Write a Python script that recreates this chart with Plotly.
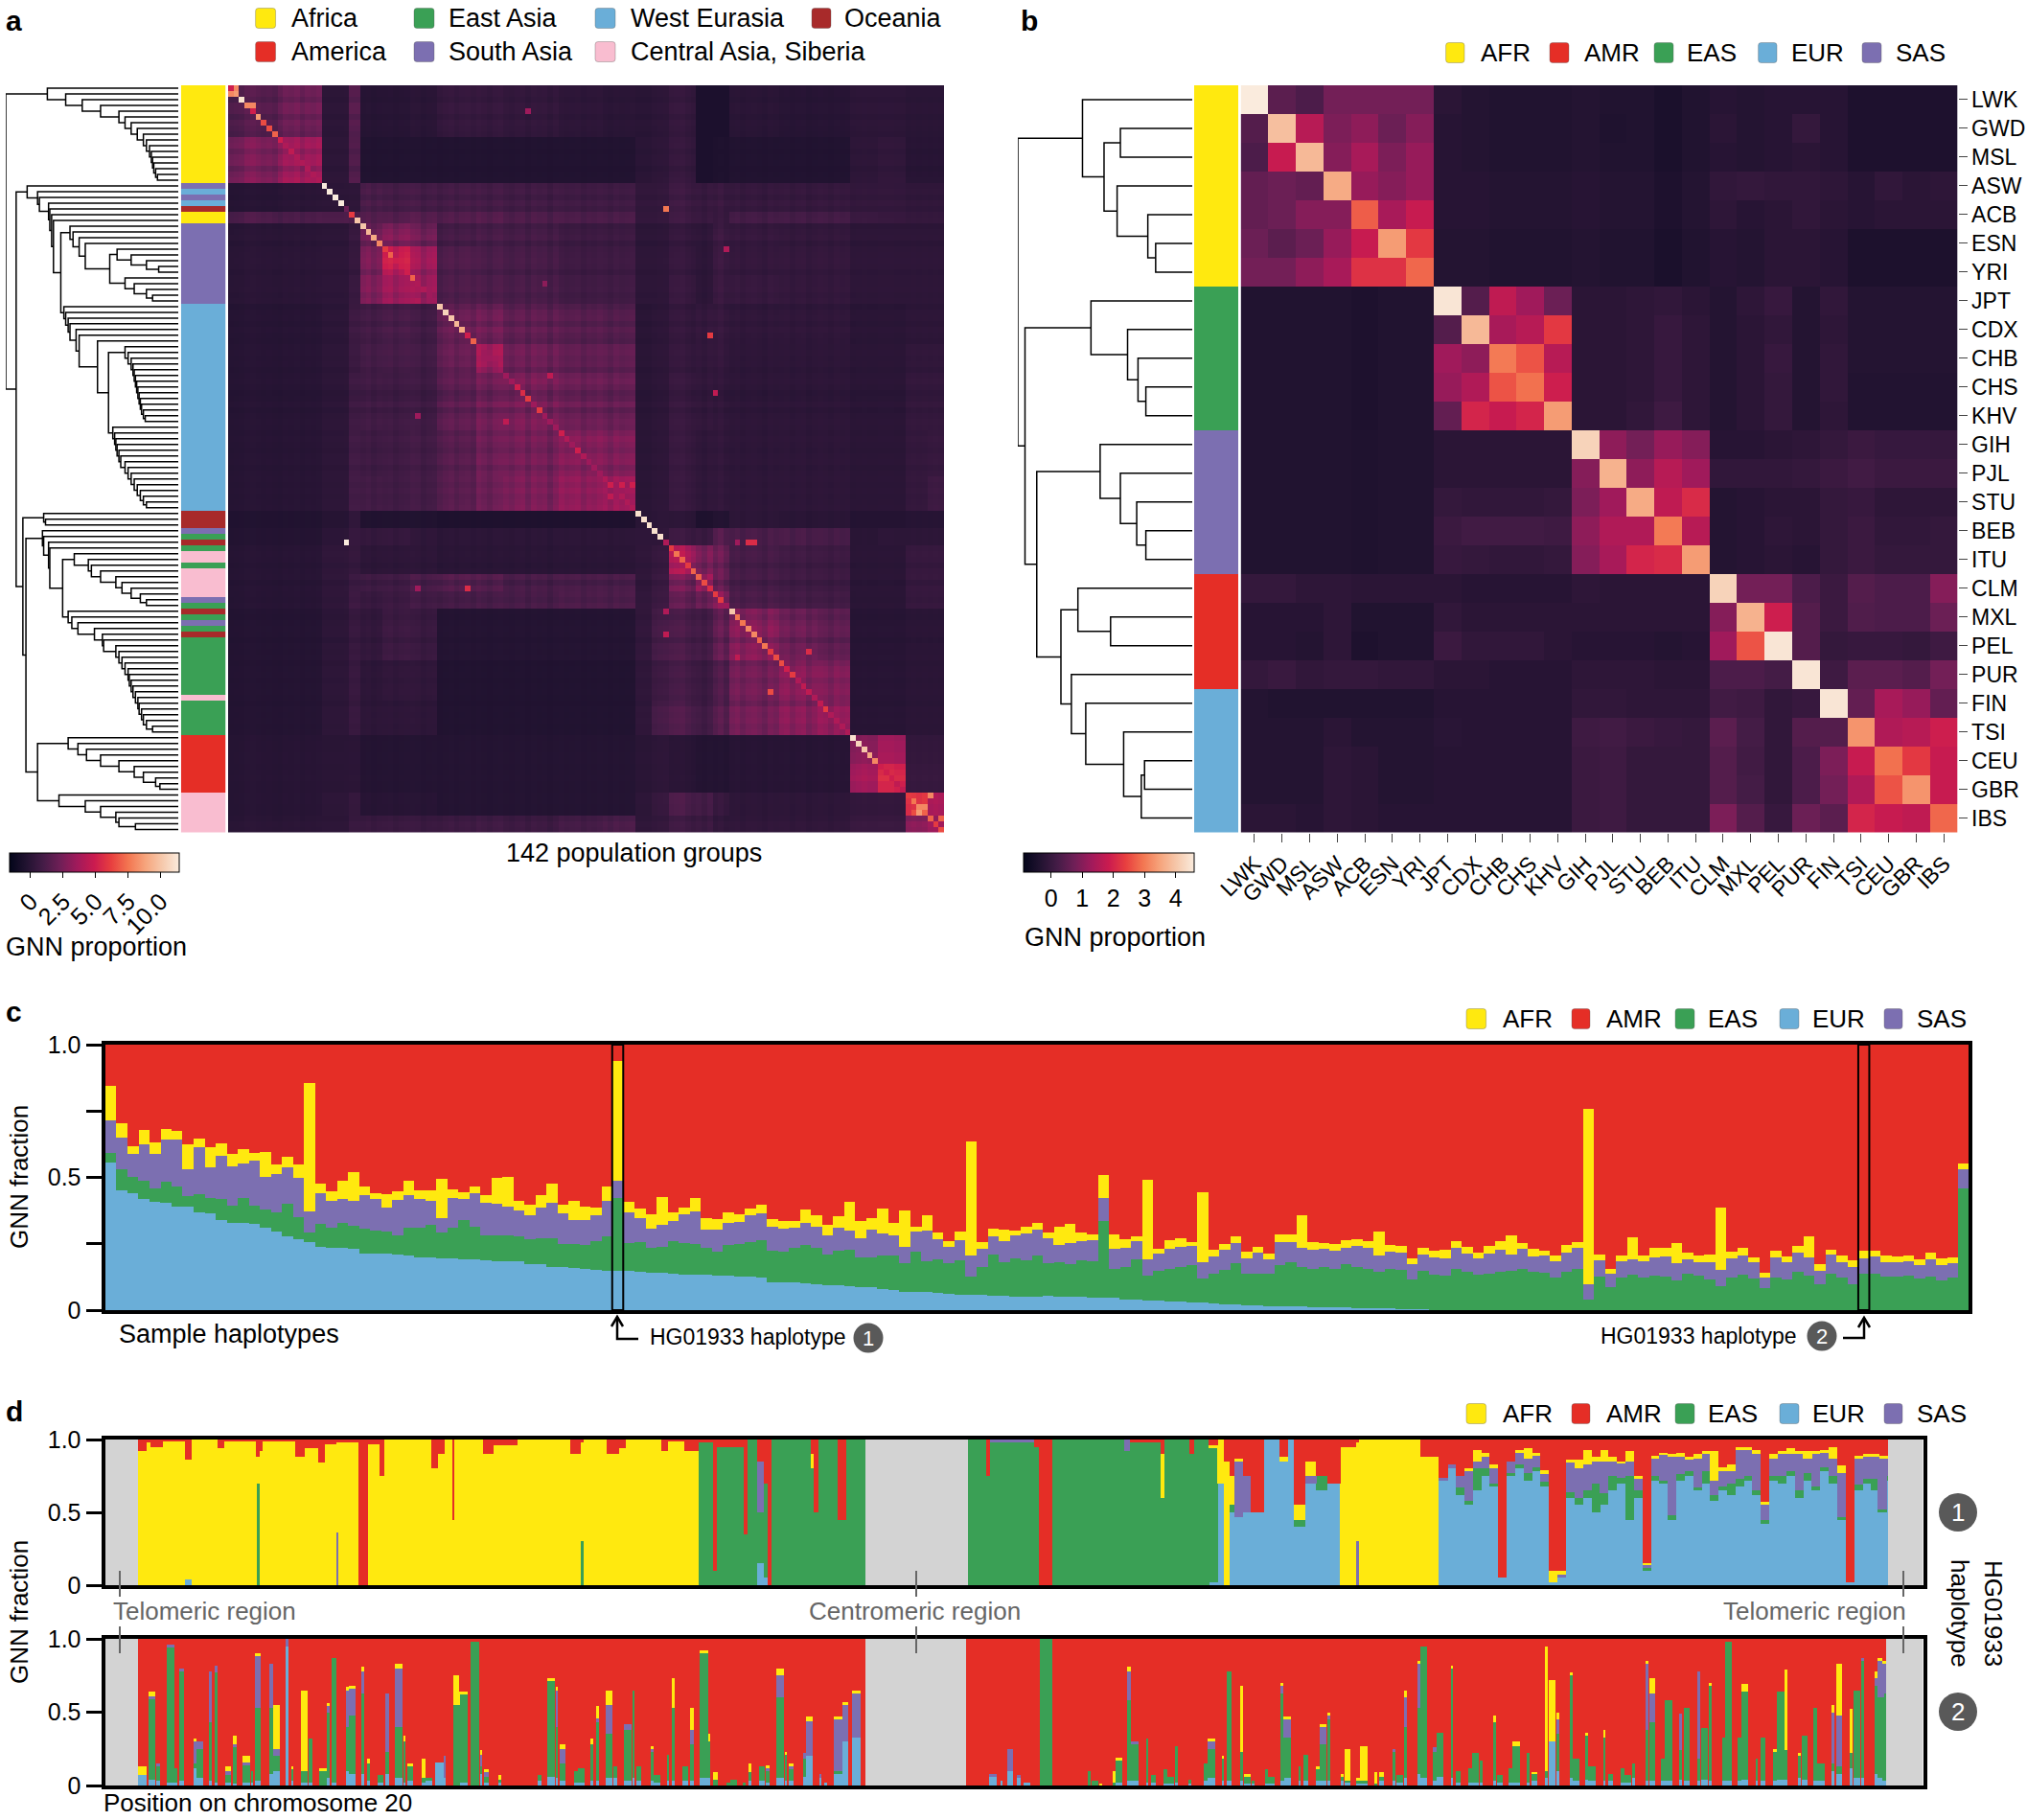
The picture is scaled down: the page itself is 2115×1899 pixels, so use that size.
import bisect
import plotly.graph_objects as go

W, H = 2115, 1899
FONT = "Liberation Sans"
AFR_C, AMR_C, EAS_C, EUR_C, SAS_C, OCE_C, CAS_C = "#FFE90F", "#E52E26", "#3AA055", "#6AAED8", "#7C6FB1", "#A82A2A", "#F9BDD0"
ROCKET = [[0, "#03051A"], [0.1, "#221331"], [0.2, "#451C47"], [0.3, "#701F57"], [0.4, "#A11A5B"],
          [0.5, "#CB1B4F"], [0.6, "#E83F3F"], [0.7, "#F37651"], [0.8, "#F6A47C"], [0.9, "#F6C9AC"], [1, "#FAEBDD"]]

# ---------- panel a: 130 drawn rows, colour strip as runs ----------
a_run_codes = [0, 4, 3, 4, 3, 5, 0, 4, 3, 5, 4, 2, 5, 2, 6, 2, 6, 4, 2, 5, 2, 4, 2, 5, 2, 6, 2, 1, 6]
a_run_sizes = [17, 1, 1, 1, 1, 1, 2, 14, 36, 3, 1, 1, 1, 1, 2, 1, 5, 1, 1, 1, 1, 1, 1, 1, 10, 1, 6, 10, 7]
a_block_edges = [0, 9, 17, 22, 24, 28, 33, 38, 45, 50, 60, 68, 74, 77, 80, 85, 88, 91, 100, 107, 113, 118, 123, 127, 130]
a_blocks = [
 [1.3,1.9,0.0,1.2,-0.2,-0.2,-0.1,0.3,0.3,0.2,0.0,-0.1,-0.1,0.0,0.3,-0.6,-0.6,-0.1,-0.2,-0.2,0.0,0.0,-0.1,-0.1],
 [2.2,3.0,0.0,1.0,-0.4,-0.4,-0.4,-0.4,-0.4,-0.4,-0.4,-0.4,-0.1,0.0,0.3,-0.6,-0.5,-0.4,-0.4,-0.4,0.0,0.1,-0.2,-0.2],
 [-0.2,-0.1,0.0,0.0,1.0,0.8,0.8,0.8,0.8,0.7,0.6,0.6,0.2,0.2,0.6,0.4,0.5,0.3,0.3,0.3,0.2,0.2,0.1,0.1],
 [1.0,0.9,1.0,0.8,1.2,1.1,1.2,1.1,1.2,1.0,0.9,0.9,0.2,0.2,0.6,0.4,0.4,0.7,0.7,0.7,0.4,0.3,0.2,0.2],
 [-0.1,-0.1,0.0,0.3,2.0,2.4,2.0,0.8,0.9,0.8,0.5,0.5,0.0,0.0,0.3,0.1,0.6,0.3,0.2,0.2,0.0,0.0,0.0,0.0],
 [-0.1,-0.1,0.0,0.2,2.2,4.0,3.0,1.0,0.9,0.8,0.5,0.5,0.0,0.0,0.3,0.0,0.5,0.2,0.2,0.2,0.0,0.0,0.0,0.0],
 [-0.1,-0.1,0.0,0.3,2.4,3.0,3.0,1.0,1.0,0.9,0.6,0.6,0.0,0.0,0.4,0.0,0.5,0.3,0.2,0.2,0.0,0.0,0.0,0.0],
 [-0.2,-0.2,0.0,0.5,0.8,0.9,0.7,1.8,2.0,1.6,1.3,1.2,-0.1,0.0,0.3,0.3,0.4,0.1,0.1,0.1,-0.1,-0.1,0.0,0.0],
 [-0.2,-0.2,0.0,0.4,0.8,0.8,0.7,1.7,3.2,1.9,1.5,1.5,-0.1,0.0,0.3,0.2,0.3,0.0,0.0,0.0,-0.1,-0.1,0.1,0.1],
 [-0.2,-0.2,0.0,0.5,0.7,0.6,0.6,1.5,2.0,2.2,1.8,1.7,-0.1,0.0,0.4,0.2,0.2,0.0,0.0,0.0,-0.1,-0.1,0.2,0.2],
 [-0.2,-0.2,0.0,0.6,0.6,0.6,0.7,1.3,1.9,2.1,2.4,2.3,-0.1,0.0,0.4,0.1,0.2,0.0,0.0,0.0,-0.1,-0.1,0.2,0.3],
 [-0.2,-0.2,0.0,0.6,0.7,0.6,0.7,1.3,1.8,2.2,2.6,2.9,-0.1,0.0,0.4,0.1,0.2,0.0,0.0,0.0,-0.1,-0.1,0.2,0.5],
 [-0.4,-0.4,-0.2,0.1,-0.4,-0.4,-0.4,-0.5,-0.5,-0.5,-0.5,-0.5,-0.1,0.0,0.0,-0.5,-0.3,0.0,-0.1,-0.1,-0.3,-0.3,-0.2,-0.2],
 [-0.3,-0.3,0.0,0.3,0.3,0.3,0.1,0.0,0.0,0.0,0.0,0.0,0.1,0.1,0.6,0.5,1.5,1.0,1.0,0.9,-0.1,0.0,0.0,0.0],
 [-0.2,-0.2,0.1,0.2,0.0,0.0,0.0,-0.1,-0.1,-0.1,-0.1,-0.1,0.1,0.3,3.6,2.3,2.0,0.8,0.6,0.5,-0.1,-0.1,0.3,0.3],
 [-0.2,-0.2,0.1,0.4,0.6,0.6,0.9,1.2,1.2,0.9,0.9,0.9,0.1,0.4,2.2,3.0,1.9,0.8,0.6,0.5,-0.1,-0.1,0.3,0.3],
 [-0.2,-0.2,0.1,0.5,0.4,0.5,0.7,0.8,0.9,0.9,1.0,1.0,0.2,0.5,1.7,1.9,2.9,1.0,0.8,0.7,-0.1,-0.1,0.3,0.3],
 [-0.3,-0.3,0.0,0.3,0.2,0.5,0.4,-0.3,-0.3,-0.3,-0.3,-0.3,0.2,0.8,1.0,0.8,1.8,2.5,1.9,1.5,-0.2,-0.2,-0.1,-0.1],
 [-0.3,-0.3,0.0,0.3,0.0,0.1,0.1,-0.4,-0.4,-0.4,-0.4,-0.4,0.1,0.5,0.8,0.5,1.2,2.0,2.5,2.3,-0.2,-0.2,-0.1,-0.1],
 [-0.3,-0.3,0.0,0.3,0.0,0.0,0.0,-0.4,-0.4,-0.4,-0.4,-0.4,0.1,0.8,1.1,0.7,1.4,2.0,2.5,2.7,-0.2,-0.2,-0.1,-0.1],
 [-0.2,-0.2,-0.1,-0.1,-0.3,-0.3,-0.3,-0.3,-0.3,-0.3,-0.3,-0.3,-0.1,0.0,-0.1,-0.3,-0.3,-0.2,-0.2,-0.2,2.6,3.2,0.2,0.2],
 [-0.2,-0.2,-0.1,-0.1,-0.3,-0.3,-0.3,-0.3,-0.3,-0.3,-0.3,-0.3,-0.1,0.0,-0.1,-0.3,-0.3,-0.2,-0.2,-0.2,3.2,4.6,0.3,0.3],
 [-0.2,-0.2,0.0,0.2,-0.2,-0.2,-0.2,-0.3,-0.3,-0.3,-0.3,-0.3,0.0,0.3,1.0,0.8,0.4,0.0,0.0,0.0,0.2,0.2,5.0,3.4],
 [-0.1,-0.1,0.0,0.3,0.4,0.4,0.4,0.5,0.6,0.5,0.7,0.9,0.1,0.2,0.6,0.5,0.2,0.1,0.1,0.1,0.4,0.4,2.5,3.0],
]
a_row_tint = [.1,.1,-.2,.3,.3,-.2,.2,0,-.2,.2, .3,-.1,.2,.3,-.2,.2,.4,0,.2,-.2,
              .3,-.1,.2,.3,-.2,.1,.3,-.3,.2,.3, .4,.3,-.1,.2,.2,.3,0,.2,-.3,.1,
              .2,-.2,.3,0,-.2,.2,.3,.1,.2,-.2, .1,.3,0,-.4,-.2,.3,-.3,.1,.3,.2,
              0,.3,.1,-.1,.2,.3,-.1,.2,.3,.1, .3,.1,.2,.3,0,0,0,0,0,0,
              .1,.3,.2,-.2,.2,.3,-.3,.2,.1,-.1, .2,0,-.2,.1,.3,.2,-.3,.2,.1,.3,
              -.1,.2,.3,0,.2,.3,.1,-.2,.3,.2, .3,.1,.2,0,.1,.1,.2,.2,.1,.2,
              .3,.1,.1,.2,.2,.1,.1,-.1,.3,.2]
a_col_tint = [-.3,-.2,-.1,.3,.4,.2,0,.1,-.1,-.2, .2,.1,.3,-.1,.2,.1,.3,0,0,0,
              0,.1,.3,.3,0,.2,-.2,.1,.2,.3, -.1,.2,.3,.4,.3,-.2,.1,.2,-.2,.1,
              .3,-.1,.2,.3,0,.3,.1,-.2,.2,.3, .1,-.1,.2,.3,-.2,.3,.1,.2,-.3,.2,
              .3,.1,.2,.3,-.1,.2,.1,.3,.2,-.1, .3,.1,.2,.3,0,0,0,0,.2,.3,
              .1,.2,.3,-.1,-.4,.1,-.3,.2,-.2,.2, -.4,.1,.3,-.1,.2,.3,.1,-.2,.3,.1,
              .2,.3,-.1,.2,.3,-.2,.1,.3,.2,-.1, .3,.1,.2,0,.1,.2,.1,.1,.2,.2,
              .2,.1,.1,.1,.2,.1,.2,.1,.2,.1]
a_diagonal = [5,8.5,11,8,6,8.5,6.5,6.5,7,5, 4,4.5,4,4,4,4,4,11.4,11.4,11.4, 11.4,2,6,10,10,9.5,9,8,6,7,
              5,5,5,7,4,4,3.5,3.5,10,10.5, 10,9.5,9,5,7,4,3.5,3.5,3.5,3.5, 3.5,3.5,5,5.5,6,3.5,6,3.5,3.5,3.5,
              3.5,4,3.5,3.5,4,3.5,3.5,3.5,4,4, 3.5,4,4,4,11,11,11,11,11,4, 6,7.5,7,6,7,7,6.5,5.5,6,6,
              3.5,10,7.5,7.5,8,8,7,7.5,6,6.5, 6.5,5,6,4,4.5,4.5,4,4.5,4,4, 4,4,4,11,10.5,10,9,8,5,5,
              5,4.5,4.5,6,7.5,8,7,7,6,7]
a_spot_row = [21,79,43,87,87,28,53,79,79,79,105,98,0,1,3,4,69,69,69,71,108,99,95,91,123,125,126,126,127,129,4,50,60,63,58,57,37,34]
a_spot_col = [79,21,87,43,34,90,88,94,95,92,98,105,1,0,4,4,69,71,73,69,108,92,79,79,127,126,125,124,129,129,54,58,60,63,50,34,34,57]
a_spot_val = [7.5,11.4,6,5.5,3.5,4,4.5,5.5,5.5,3.5,6.5,5.5,8,8,8,5,5,5,5,4.5,6,4.5,4.5,4,8,8,8.5,6.5,7,6.5,3.5,4.5,5,5,4.5,3.5,4,3]

# ---------- panel b ----------
b_pops = ["LWK","GWD","MSL","ASW","ACB","ESN","YRI","JPT","CDX","CHB","CHS","KHV","GIH","PJL","STU","BEB","ITU","CLM","MXL","PEL","PUR","FIN","TSI","CEU","GBR","IBS"]
b_codes = [0]*7 + [2]*5 + [4]*5 + [1]*4 + [3]*5
b_matrix = [
 [4.6,.5,.3,.8,.8,.8,.8,-.2,-.3,-.35,-.35,-.35,-.3,-.35,-.35,-.45,-.35,-.25,-.3,-.25,-.25,-.25,-.4,-.4,-.4,-.4],
 [.4,3.9,1.6,.9,1.1,.7,1.0,-.25,-.3,-.35,-.35,-.35,-.3,-.38,-.35,-.45,-.35,-.2,-.3,-.25,-.05,-.25,-.4,-.4,-.4,-.4],
 [.3,1.8,3.8,1.0,1.4,.9,1.2,-.25,-.3,-.35,-.35,-.35,-.3,-.35,-.35,-.45,-.35,-.25,-.3,-.25,-.2,-.25,-.4,-.4,-.4,-.4],
 [.6,.7,.6,3.6,1.2,1.0,1.2,-.25,-.25,-.3,-.3,-.3,-.25,-.3,-.3,-.4,-.3,-.1,-.05,-.1,-.1,-.15,-.25,-.1,-.2,-.15],
 [.6,.7,1.0,1.0,2.7,1.4,1.8,-.25,-.25,-.3,-.3,-.3,-.25,-.3,-.3,-.4,-.3,-.15,-.25,-.2,-.1,-.2,-.25,-.2,-.2,-.2],
 [.7,.5,.7,1.2,1.8,3.4,2.3,-.3,-.3,-.35,-.35,-.35,-.3,-.35,-.35,-.45,-.35,-.25,-.3,-.2,-.2,-.25,-.42,-.42,-.42,-.42],
 [.8,.8,1.1,1.4,2.2,2.2,2.8,-.3,-.3,-.35,-.35,-.35,-.3,-.35,-.35,-.45,-.35,-.25,-.3,-.2,-.2,-.25,-.42,-.42,-.42,-.42],
 [-.35,-.35,-.35,-.35,-.4,-.35,-.35,4.5,.4,1.7,1.3,.7,-.2,-.2,-.15,-.1,-.2,-.3,-.15,0,-.3,-.1,-.3,-.3,-.3,-.3],
 [-.35,-.35,-.35,-.35,-.4,-.35,-.35,.4,3.8,1.4,1.6,2.3,-.2,-.2,-.15,0,-.15,-.3,-.2,-.1,-.3,-.15,-.3,-.3,-.3,-.3],
 [-.35,-.35,-.35,-.35,-.4,-.35,-.35,1.3,1.1,3.0,2.6,1.6,-.2,-.2,-.15,0,-.15,-.3,-.2,0,-.3,-.1,-.3,-.3,-.3,-.3],
 [-.35,-.35,-.35,-.35,-.4,-.35,-.35,1.2,1.5,2.6,2.9,1.9,-.2,-.2,-.15,0,-.15,-.3,-.2,-.05,-.3,-.1,-.33,-.33,-.33,-.33],
 [-.35,-.35,-.35,-.35,-.4,-.35,-.35,.6,2.0,1.8,2.0,3.4,-.2,-.2,-.1,.1,-.15,-.3,-.2,-.05,-.3,-.15,-.33,-.33,-.33,-.33],
 [-.35,-.35,-.35,-.35,-.38,-.35,-.35,-.2,-.2,-.2,-.2,-.2,4.2,1.1,.8,1.2,1.0,-.25,-.25,-.2,-.15,-.05,.05,-.02,-.02,-.03],
 [-.35,-.35,-.35,-.35,-.38,-.35,-.35,-.2,-.2,-.2,-.2,-.2,1.0,3.7,1.1,1.6,1.3,-.1,-.1,-.1,-.05,.05,.15,.05,.05,.05],
 [-.35,-.35,-.35,-.35,-.38,-.35,-.35,-.05,-.1,-.1,-.1,-.05,.9,1.3,3.6,1.7,2.1,-.3,-.25,-.2,-.2,-.05,0,-.15,-.15,-.15],
 [-.35,-.35,-.35,-.35,-.38,-.35,-.35,.05,.15,.15,.15,.1,1.1,1.5,1.5,3.0,1.6,-.3,-.25,-.15,-.2,-.05,.05,-.1,-.1,-.05],
 [-.35,-.35,-.35,-.35,-.38,-.35,-.35,0,-.05,-.1,-.1,-.05,1.0,1.4,2.0,2.1,3.4,-.3,-.25,-.2,-.25,-.05,.05,-.05,-.05,-.05],
 [-.05,-.05,-.15,-.15,-.2,-.2,-.2,-.2,-.25,-.25,-.25,-.25,-.15,-.2,-.2,-.2,-.2,4.2,.8,.8,.3,.05,.4,.3,.3,1.0],
 [-.25,-.25,-.25,-.15,-.35,-.35,-.35,-.1,-.2,-.2,-.2,-.2,-.2,-.2,-.2,-.2,-.2,1.0,3.7,1.9,.4,.05,.35,.3,.3,.7],
 [-.25,-.25,-.3,-.15,-.4,-.35,-.35,.05,-.1,-.1,-.1,-.2,-.25,-.25,-.25,-.3,-.25,1.3,2.6,4.5,.4,-.05,0,0,-.05,.1],
 [-.05,.02,-.1,-.05,-.05,-.1,-.1,-.2,-.2,-.25,-.25,-.25,-.15,-.15,-.15,-.2,-.2,.3,.3,.2,4.5,.1,.5,.5,.4,.8],
 [-.3,-.35,-.35,-.35,-.35,-.35,-.35,-.25,-.25,-.25,-.25,-.25,-.1,-.1,-.15,-.15,-.15,.15,.1,-.1,0,4.5,.6,1.4,1.2,.6],
 [-.3,-.3,-.3,-.2,-.3,-.3,-.3,-.22,-.25,-.25,-.25,-.25,.1,.15,.05,0,-.05,.5,.2,-.1,.4,.4,3.3,1.5,1.6,1.9],
 [-.3,-.3,-.3,-.15,-.2,-.3,-.3,-.25,-.25,-.25,-.25,-.25,.05,.1,-.05,-.05,-.05,.4,.15,-.1,.3,.9,1.8,2.9,2.3,1.8],
 [-.3,-.3,-.3,-.15,-.2,-.3,-.3,-.25,-.25,-.25,-.25,-.25,.05,.1,-.05,-.05,-.05,.4,.2,-.1,.3,.8,1.5,2.6,3.3,1.8],
 [-.2,-.2,-.25,-.15,-.2,-.25,-.25,-.25,-.25,-.25,-.25,-.25,.05,.1,-.05,-.05,-.05,.9,.4,0,.7,.5,2.0,1.8,1.7,2.8],
]

# ---------- panel c: per-mille GNN fraction of each sample haplotype ----------
c_eur = [557,450,442,417,409,403,391,391,367,363, 341,330,328,325,309,296,278,266,255,238,
         236,234,230,214,212,212,209,206,200,197, 195,195,192,190,188,185,184,184,173,173,
         163,162,160,156,151,149,149,148,144,142, 140,136,134,133,132,131,129,128,128,122,
         106,104,103,100,98,94,93,91,87,85, 79,76,70,70,68,64,61,59,58,57,
         54,54,52,52,52,54,52,51,50,48, 47,46,41,39,36,35,34,34,29,28,
         25,23,21,18,17,16,16,15,13,12, 11,10,10,8,8,6,6,4,2,2,
         1,1,0,0,0,0,0,0,0,0, 0,0,0,0,0,0,0,0,0,0,
         0,0,0,0,0,0,0,0,0,0, 0,0,0,0,0,0,0,0,0,0,
         0,0,0,0,0,0,0,0,0]
c_eas = [36,82,61,69,51,79,73,39,70,61, 76,65,93,68,70,73,123,83,36,88,
         76,93,88,92,88,85,73,106,109,123, 96,114,149,125,94,97,98,94,93,97,
         106,86,88,88,109,129,272,105,113,94, 98,125,119,115,102,91,115,122,127,140,
         117,115,131,145,136,117,131,138,113,113, 128,131,108,149,117,126,115,128,69,106,
         155,127,142,136,154,123,129,121,136,137, 289,111,122,151,93,114,123,127,139,90,
         114,128,155,121,120,123,154,167,148,144, 150,146,162,155,148,138,150,148,113,146,
         134,128,157,146,133,139,145,149,156,144, 142,123,146,157,40,125,85,123,132,121,
         129,127,113,139,131,117,91,121,132,119, 83,123,117,143,129,99,136,121,97,139,
         139,127,125,129,119,127,113,123,457]
c_sas = [121,119,85,137,127,160,178,99,177,113, 166,148,133,169,123,145,137,150,81,115,
         99,91,93,126,117,91,132,123,111,91, 54,113,76,127,121,120,109,98,93,117,
         136,117,90,94,99,132,68,116,91,70, 85,73,109,125,70,80,86,82,103,102,
         90,87,75,85,81,70,85,70,70,106, 81,73,62,77,115,77,61,76,77,67,
         70,79,86,102,96,92,64,82,75,80, 87,73,73,70,62,63,73,77,74,64,
         63,76,76,56,81,53,86,74,75,73, 70,68,64,80,80,61,63,63,58,61,
         64,67,76,67,61,75,81,61,74,59, 65,61,69,79,57,63,51,61,58,64,
         70,75,64,52,51,63,61,73,74,62, 40,74,63,75,69,50,74,59,67,56,
         63,53,56,56,51,63,57,54,73]
c_afr = [129,52,29,54,44,42,33,97,31,77, 44,44,53,30,92,36,38,48,484,35,
         36,71,109,33,23,48,33,52,31,39, 148,33,27,24,30,98,111,34,38,48,
         71,31,75,51,29,54,449,39,34,54, 104,33,23,51,41,40,40,28,25,34,
         29,31,27,50,42,39,44,109,65,42, 93,48,137,19,59,24,22,33,433,28,
         29,42,19,23,28,24,69,71,31,19, 86,54,30,19,299,18,33,31,16,263,
         27,23,25,24,22,22,29,29,122,27, 22,24,29,23,24,92,27,28,22,27,
         25,33,27,27,23,28,33,71,22,27, 17,23,29,21,661,22,19,21,86,21,
         36,33,74,24,23,28,236,28,27,19, 18,27,21,23,79,24,18,24,22,29,
         22,24,22,22,22,27,24,22,21]
c_highlight = [46, 159]

# ---------- panel d: haplotype 1, segments (Mb) ----------
d1_edge = [1.45,1.61,2.02,2.82,3.05,3.97,4.2,5.35,5.46,5.58,
           6.73,7.07,7.53,7.76,8.17,8.26,8.98,9.3,9.71,9.87,
           11.55,11.78,12.0,12.3,12.37,13.38,13.73,14.6,16.48,16.83,
           16.94,17.75,18.2,18.43,19.7,19.93,20.5,21.0,21.53,21.65,
           22.63,22.75,23.09,23.32,23.46,23.6,24.98,25.09,25.27,25.94,
           26.24,26.93,31.2,31.35,32.9,33.09,33.55,36.1,36.3,37.4,
           37.5,38.4,38.55,39.1,39.4,39.62,39.83,40.0,40.3,40.59,
           41.05,41.6,41.9,42.1,42.5,42.9,43.3,43.75,44.3,44.4,
           45.5,46.6,47.25]
d1_eur = [0,0,0,0,.04,0,0,0,0,0, 0,0,0,0,0,0,0,0,0,0, 0,0,0,0,0,0,0,0,0,0, 0,0,0,0,0,0,0,0,0,0,
          0,0,0,.15,.05,0,0,0,0,0, 0,0,0,0,0,0,0,0,0,0, 0,0,0,0,.02,.7,0,.5,.47,.5,
          .5,1,.85,1,.4,.7,.65,.7,0,0, 0,0,0]
d1_eas = [0,0,0,0,0,0,0,0,.7,0, 0,0,0,0,0,0,0,0,0,0, 0,0,0,0,0,0,0,0,0,0, .3,0,0,0,0,0,0,0,.98,.1,
          .95,.35,1,.35,.65,0,1,.8,.5,1, .45,1,1,.75,.98,.95,0,1,.92,.98, .6,1,.9,1,.92,0,0,.05,0,0,
          0,0,0,0,.05,0,.1,0,0,0, 0,0,0]
d1_sas = [0,0,0,0,0,0,0,0,0,0, 0,0,0,0,0,.36,0,0,0,0, 0,0,0,0,0,0,0,0,0,0, 0,0,0,0,0,0,0,0,0,0,
          0,0,0,.35,0,0,0,0,0,0, 0,0,0,0,.02,0,0,0,.08,0, 0,0,0,0,0,0,0,0,.38,.25,
          0,0,0,0,0,.05,0,0,0,.3, 0,0,0]
d1_afr = [.92,.98,.95,.99,.82,1,.94,.99,.18,.92, .99,.88,.94,.84,.97,.62,.98,0,.97,.75,
          1,.8,.9,1,.45,1,.9,.96,1,.9, .68,1,.9,.94,1,.92,.99,.92,0,0,
          0,0,0,0,0,0,0,.1,0,0, 0,0,0,0,0,0,0,0,0,0, .3,0,0,0,.02,.3,.85,.2,.02,0,
          0,0,.03,0,.1,.1,0,0,.95,.68, 1,1,.88]
d1t_eur = [.72,.8,.62,.55,.65,.75,.68,.05,.75,.8, .72,.78,.68,.02,.05,.6,.55,.6,.5,.55,
           .65,.7,.45,.6,.1,.72,.7,.45,.72,.75, .65,.7,.58,.65,.62,.68,.72,.62,.42,.72,
           .7,.75,.6,.72,.65,.78,.7,.45,.02,.65, .7,.65,.72,.5]
d1t_eas = [0,0,.05,.03,.15,.05,.02,0,.02,.03, .05,.03,.03,0,0,.04,.05,.05,.2,.08,
           .1,.04,.3,.05,.02,.03,.02,.03,.04,.03, .02,.08,.04,.03,.08,.05,.03,.03,.03,.03,
           .05,.03,.05,.05,.03,.03,.05,.02,0,.04, .03,.08,.03,.02]
d1t_sas = [.02,.03,.08,.2,.05,.08,.1,0,.08,.08, .1,.08,.05,0,.02,.2,.2,.18,.15,.22,
           .1,.1,.1,.08,.02,.12,.18,.4,.12,.08, .2,.12,.1,.1,.08,.2,.18,.25,.1,.12,
           .15,.12,.25,.1,.22,.1,.12,.3,0,.18, .15,.15,.12,.38]
d1t_afr = [0,0,0,.02,.08,.03,.03,0,0,.02, .07,.02,.03,.08,.03,.02,.06,.1,.03,.08,
           .03,.01,.07,.02,.01,.02,.01,.02,.03,.02, .03,.02,.2,.03,.05,.02,.02,.03,.02,.03,
           .02,.04,.02,.05,.02,.02,.08,.05,0,.02, .02,.02,.02,.04]

# ---------- panel d: haplotype 2 ----------
d2l_eur = [.07,.04,.03,.02,.02,.03,.12,.05,.03,.02, .02,.01,.02,.02,.03,.08,.1,.95,.03,.02,
           .02,0,.05,.02,.1,.08,.08,.03,.02,.08, .05,.02,.03,.02,.03,.16,.05,0,.02,0,
           .08,.02,.02,0,0,0,0,.03,.06,.05, .03,.02,.02,.03,.03,.05,.05,.03,.05,.03,
           .03,.02,.03,.03,.03,.03,.05,.05,0,0, 0,0,.03,.03,.02,.05,.03,.03,.06,.2,
           .05,.02,.08,.3,.33,0,0]
d2l_eas = [0,.55,.1,.92,.1,.75,.03,.2,.4,.75, .05,.25,.12,.08,.5,.45,.1,0,.08,.08,
           .3,.1,.45,.85,.3,.4,.55,.12,.05,.15, .35,.28,.1,.03,.02,0,0,.55,.6,.98,
           .05,.04,.02,0,0,0,0,.04,.65,.35, .12,.08,.1,.25,.4,.3,.08,.35,.6,.1,
           .2,.05,.18,.5,.1,.25,.85,.25,.04,.02, .04,.02,.06,.1,.08,.55,.18,.08,.12,0,
           0,0,.02,0,0,0,0]
d2l_sas = [0,.02,.02,.02,0,.02,.15,.05,.35,.05, .03,.02,.02,0,.35,.3,.05,.05,0,0,
           0,0,.04,0,.25,.18,.15,0,0,.4, .4,0,0,0,0,0,.15,0,0,0,
           .08,.03,0,0,0,0,0,0,0,.25, .1,0,0,0,.03,.2,0,.04,0,0,
           .02,0,0,0,0,.1,0,0,0,0, 0,0,0,0,.02,.15,0,.02,.04,.24,
           .03,0,.35,.25,.3,0,0]
d2l_afr = [.06,.03,0,0,0,0,.02,0,0,0, .03,.06,.04,0,.02,0,.3,0,.02,.55,
           0,.02,.02,0,.02,.02,.03,.03,0,0, .03,.04,.02,.13,0,0,0,.2,.02,0,
           .03,.02,.03,0,0,0,0,0,.02,.02, .03,0,0,.04,.08,.1,0,0,0,0,
           .02,0,0,.2,0,.15,.02,.05,.05,0, 0,0,.06,0,.02,.05,.02,.02,0,.03,
           0,0,.02,.02,.02,0,0]
d2l_wide_index = [0, 35, 38, 39, 82, 83, 84]
d2_streak_width = [0.1, 0.22, 0.14, 0.28, 0.08, 0.18, 0.12, 0.24, 0.1]
d2_streak_shift = [-0.08, 0.05, -0.03, 0.1, 0.0, -0.1, 0.07, -0.05, 0.03]
d2r_head_pos = [30.55,30.85,31.15,31.45,31.75,32.05,32.35,32.65,33.05,33.2,33.45,33.6]
d2r_wide_index = [9, 10]
d2r_eur = [0,0,0,.06,.03,.1,.05,.02,0,0,0,0,
           0,0,0,0,0,0,0,.02,.03,.03, .02,.02,.01,.01,.02,.01,0,.03,.05,.03,
           .03,.03,.01,.01,.01,.01,.03,.05,.03,.03, .03,.03,.03,.03,.02,.01,.01,0,.03,.03,
           .02,.05,.08,.05,.03,.06,.05,.02,.02,.02, .02,.03,.02,.02,.02,.02,.03,.05,.3,.1,
           .05,.03,.04,.03,.03,.03,.02,.02,.05,.03, .03,.03,.03,.04,.03,.03,.04,.03,.03,.03,
           .03,.04,.03,.03,.03,.04,.04,.05,.04,.03, .03,.1,.08,.12,.05,.05,.08,.05,.03]
d2r_eas = [0,0,0,0,0,0,0,0,0,1,1,0,
           0,0,0,.1,.03,0,.02,.15,.55,.25, .3,.05,.1,.05,.25,.03,0,.12,.2,.15,
           .75,.2,.05,.02,.1,.05,.6,.28,.1,.18, .08,.25,.42,.03,.01,.02,.02,.01,.03,.2,
           .05,.35,.45,.9,.2,.3,.75,.08,.1,.2, .15,.4,.05,.1,.25,.2,.05,.05,0,.25,
           .7,.15,.3,.1,.3,.05,.1,.05,.1,.35, .4,.15,.55,.2,.5,.15,.35,.65,.3,.95,
           .3,.6,.15,.3,.2,.6,.2,.15,.3,.5, .12,.05,.05,.1,.6,.8,.6,.55,.6]
d2r_sas = [0,0,0,.02,0,.15,.02,0,0,0,0,0,
           0,0,0,0,0,0,0,0,.2,.02, 0,0,0,0,0,0,0,0,.05,0,
           0,0,0,0,0,0,.05,.12,0,0, 0,.12,.03,0,0,0,0,0,0,.02,
           0,.2,.3,0,.03,0,0,0,0,0, 0,0,0,0,0,0,0,0,0,.1,
           0,0,0,0,0,0,0,0,0,.45, .2,0,0,.25,0,.6,0,0,0,0,
           0,0,0,0,0,0,0,0,0,0, 0,.35,.35,0,0,.02,.05,.25,.2]
d2r_afr = [0,0,0,0,0,0,0,0,0,0,0,0,
           0,0,0,0,0,.01,.08,.02,.03,0, 0,0,0,0,0,0,0,0,.02,.02,
           0,.45,.02,0,0,0,.02,.02,0,0, .02,.02,.02,.02,.22,.02,.24,.08,.03,0,
           0,.05,.02,0,0,0,.02,0,0,0, 0,.05,0,0,.03,0,.01,.85,.42,.05,
           .02,0,.02,0,.05,0,0,0,0,.02, .1,0,0,0,0,0,0,.02,0,0,
           0,.05,0,0,.02,0,.55,.02,0,0, 0,.05,.35,.3,0,0,.05,.02,.02]

# ---------- dendrogram merge depths ----------
def ladder(depths, tail=None):
    node = tail
    for d in reversed(depths):
        node = (d, None, node)
    return node

a_sas = ladder([115,120,130,140], (180, ladder([192,215,240,260]), ladder([205,220,240,250])))
a_eur = ladder([105,108,112,115,125,130,160],
               (178, ladder([205,210,215,218,220,222,224,226,228,230,232,235,238]),
                     ladder([185,188,190,192,195,198,205,210,215,220,225,230,235,240])))
a_tree = (10,
    ladder([78,108,135,165,195,205,215,225,235,240,245,248,250,252,255,258]),
    (27,
     ladder([45,62,65,80,82,85,88], (100, a_sas, a_eur)),
     (38, ladder([72,75]),
      (43,
       ladder([70,72,80,82], (103, ladder([122,145,150,165,190,200,215,230,240]),
              ladder([112,118,128,155,168,170,190,195,200,205,210,212,215,218,222,226,228,232,235,240,250]))),
       (62, ladder([112,128,142,165,195,220,235,255,262]), ladder([97,140,165,190,195,222]))))))
b_tree = (18,
    (117, None, (150, (175, None, None), (170, None, (217, None, (229, None, None))))),
    (29,
     (130, None, (186, None, (202, None, (214, None, None)))),
     (47,
      (144, None, (175, None, (200, None, (214, None, None)))),
      (84,
       (110, None, (160, None, None)),
       (100, None, (122, None, (180, None, (207, (212, None, None), None))))))))


def tree_lines(tree, leaf_depth):
    xs, ys = [], []
    counter = [0]

    def walk(node):
        if node is None:
            y = counter[0]
            counter[0] += 1
            return y, leaf_depth
        top, depth_top = walk(node[1])
        bot, depth_bot = walk(node[2])
        xs.extend([depth_top, node[0], node[0], depth_bot, None])
        ys.extend([top, top, bot, bot, None])
        return (top + bot) / 2, node[0]

    walk(tree)
    return xs, ys


# ---------- build ----------
def fx(x):
    return x / W


def fy(y):
    return 1 - y / H


def xdom(a, b):
    return [a / W, b / W]


def ydom(a, b):
    return [1 - b / H, 1 - a / H]


fig = go.Figure()
PALETTE = [AFR_C, AMR_C, EAS_C, EUR_C, SAS_C, OCE_C, CAS_C]
STEP = []
for i, col in enumerate(PALETTE):
    STEP += [[i / 7, col], [(i + 1) / 7, col]]

a_codes = [c for c, n in zip(a_run_codes, a_run_sizes) for _ in range(n)]
n_a = len(a_codes)
assert n_a == 130 and len(a_diagonal) == 130 and len(a_row_tint) == 130 and len(a_col_tint) == 130
assert len(a_spot_row) == len(a_spot_col) == len(a_spot_val)


def blk(i):
    return bisect.bisect_right(a_block_edges, i) - 1


a_z = []
for r in range(n_a):
    row = []
    for c in range(n_a):
        v = a_blocks[blk(r)][blk(c)]
        row.append(v + (a_row_tint[r] + a_col_tint[c]) * max(0, v + 0.6) * 0.4)
    a_z.append(row)
for i, v in enumerate(a_diagonal):
    a_z[i][i] = v
for r, c, v in zip(a_spot_row, a_spot_col, a_spot_val):
    a_z[r][c] = v

bar_tick = dict(orientation="h", xanchor="left", yanchor="top", lenmode="pixels", thickness=20,
                outlinecolor="#000", outlinewidth=1, ticks="outside", ticklen=6, tickcolor="#000",
                xpad=0, ypad=0, tickfont=dict(size=25, family=FONT, color="#000"))
fig.add_trace(go.Heatmap(z=a_z, x=list(range(n_a)), y=list(range(n_a)), xaxis="x", yaxis="y",
                         colorscale=ROCKET, zmin=-1.65, zmax=11.4, hoverinfo="skip",
                         colorbar=dict(bar_tick, x=fx(9.6), y=fy(890), len=177,
                                       tickvals=[0, 2.5, 5, 7.5, 10],
                                       ticktext=["0", "2.5", "5.0", "7.5", "10.0"], tickangle=-45)))
fig.add_trace(go.Heatmap(z=[[c] for c in a_codes], x=[0], y=list(range(n_a)), xaxis="x2", yaxis="y2",
                         colorscale=STEP, zmin=0, zmax=7, showscale=False, hoverinfo="skip"))
xs, ys = tree_lines(a_tree, 292)
fig.add_trace(go.Scatter(x=xs, y=ys, mode="lines", line=dict(color="#000", width=1.5), xaxis="x3", yaxis="y3", hoverinfo="skip"))

fig.add_trace(go.Heatmap(z=b_matrix, x=list(range(26)), y=list(range(26)), xaxis="x4", yaxis="y4",
                         colorscale=ROCKET, zmin=-0.88, zmax=4.59, hoverinfo="skip",
                         colorbar=dict(bar_tick, x=fx(1068), y=fy(890), len=177.6,
                                       tickvals=[0, 1, 2, 3, 4])))
fig.add_trace(go.Heatmap(z=[[c] for c in b_codes], x=[0], y=list(range(26)), xaxis="x5", yaxis="y5",
                         colorscale=STEP, zmin=0, zmax=7, showscale=False, hoverinfo="skip"))
xs, ys = tree_lines(b_tree, 285)
fig.add_trace(go.Scatter(x=xs, y=ys, mode="lines", line=dict(color="#000", width=1.5), xaxis="x6", yaxis="y6", hoverinfo="skip"))

# panel c
c_x = list(range(len(c_eur)))
assert len(c_eur) == len(c_eas) == len(c_sas) == len(c_afr) == 169
c_amr = [1000 - a - b - c - d for a, b, c, d in zip(c_eur, c_eas, c_sas, c_afr)]
for vals, col in ((c_eur, EUR_C), (c_eas, EAS_C), (c_sas, SAS_C), (c_afr, AFR_C), (c_amr, AMR_C)):
    fig.add_trace(go.Bar(x=c_x, y=[v / 1000 for v in vals], marker=dict(color=col, line=dict(width=0)),
                         width=1.01, xaxis="x7", yaxis="y7", hoverinfo="skip"))


def stacked_bars(pos, width, eur, eas, sas, afr, xa, ya):
    assert len(pos) == len(eur) == len(eas) == len(sas) == len(afr), len(pos)
    amr = [max(0, 1 - a - b - c - d) for a, b, c, d in zip(eur, eas, sas, afr)]
    for vals, col in ((eur, EUR_C), (eas, EAS_C), (sas, SAS_C), (afr, AFR_C), (amr, AMR_C)):
        fig.add_trace(go.Bar(x=pos, y=vals, width=width, marker=dict(color=col, line=dict(width=0)),
                             xaxis=xa, yaxis=ya, hoverinfo="skip"))


# panel d, haplotype 1
assert len(d1_edge) == 83
d1_left = [1.17] + d1_edge[:-1]
d1_left[52] = 30.55
d1_mid = [(a + b) / 2 for a, b in zip(d1_left, d1_edge)]
d1_w = [b - a + 0.01 for a, b in zip(d1_left, d1_edge)]
stacked_bars(d1_mid, d1_w, d1_eur, d1_eas, d1_sas, d1_afr, "x8", "y8")
d1t_pos = [47.4 + 0.3 * k for k in range(len(d1t_eur))]
d1t_pos[-1] = 62.95
stacked_bars(d1t_pos, [0.31] * len(d1t_pos), d1t_eur, d1t_eas, d1t_sas, d1t_afr, "x8", "y8")

# panel d, haplotype 2: red spans, then narrow streaks of varying width
fig.add_trace(go.Bar(x=[14.05, 46.825], y=[1, 1], width=[25.76, 32.55], marker=dict(color=AMR_C, line=dict(width=0)),
                     xaxis="x9", yaxis="y9", hoverinfo="skip"))
ns = len(d2_streak_width)
d2l_pos = [1.3 + 0.3 * k + d2_streak_shift[k % ns] for k in range(len(d2l_eur))]
d2l_pos[0] = 1.3
d2l_pos[-1] = 26.8
d2l_w = [0.31 if i in d2l_wide_index else d2_streak_width[i % ns] for i in range(len(d2l_pos))]
stacked_bars(d2l_pos, d2l_w, d2l_eur, d2l_eas, d2l_sas, d2l_afr, "x9", "y9")
d2r_pos = d2r_head_pos + [33.85 + 0.3 * k + d2_streak_shift[k % ns] for k in range(98)] + [63.03]
d2r_w = [0.26 if i in d2r_wide_index else d2_streak_width[i % ns] for i in range(len(d2r_pos))]
stacked_bars(d2r_pos, d2r_w, d2r_eur, d2r_eas, d2r_sas, d2r_afr, "x9", "y9")

# ---------- annotations / shapes ----------
shapes, notes = [], []
for ax in ("8", "9"):
    shapes.append(dict(type="rect", xref="x" + ax, yref="y" + ax, x0=0, x1=64.41, y0=0, y1=1,
                       fillcolor="#D3D3D3", line=dict(width=0), layer="below"))


def text(x, y, s, size=26, anchor="left", color="#000", angle=0):
    notes.append(dict(x=fx(x), y=fy(y), xref="paper", yref="paper", text=s, showarrow=False, textangle=angle,
                      xanchor=anchor, yanchor="middle", font=dict(family=FONT, size=size, color=color)))


def swatch(x0, x1, yc, col, h=21, r=3):
    a, b = fx(x0), fx(x1)
    y0, y1 = fy(yc - h / 2), fy(yc + h / 2)
    rx, ry = r / W, r / H
    path = (f"M{a+rx},{y0} L{b-rx},{y0} Q{b},{y0} {b},{y0-ry} L{b},{y1+ry} Q{b},{y1} {b-rx},{y1} "
            f"L{a+rx},{y1} Q{a},{y1} {a},{y1+ry} L{a},{y0-ry} Q{a},{y0} {a+rx},{y0} Z")
    shapes.append(dict(type="path", path=path, xref="paper", yref="paper", fillcolor=col,
                       line=dict(color="rgba(90,90,90,0.35)", width=1)))


def circle(cx, cy, r, s, size):
    shapes.append(dict(type="circle", xref="paper", yref="paper", x0=fx(cx - r), x1=fx(cx + r), y0=fy(cy + r), y1=fy(cy - r),
                       fillcolor="#595959", line=dict(width=0)))
    text(cx, cy, s, size=size, anchor="center", color="#fff")


def poly(points, color="#000", width=2.5):
    path = "M" + " L".join(f"{fx(x)},{fy(y)}" for x, y in points)
    shapes.append(dict(type="path", path=path, xref="paper", yref="paper", line=dict(color=color, width=width)))


for s, x, y in (("a", 4, 21), ("b", 1063, 21), ("c", 4, 1055), ("d", 4, 1472)):
    text(x, y, f"<b>{s}</b>", size=30)

for x0, x1, lx, name, yc in ((266.6, 287.6, 302, "Africa", 19), (432, 453, 466, "East Asia", 19),
                             (621, 642, 655.6, "West Eurasia", 19), (847, 867, 879, "Oceania", 19),
                             (266.6, 287.6, 302, "America", 54), (432, 453, 466, "South Asia", 54),
                             (621, 642, 655.6, "Central Asia, Siberia", 54)):
    col = {"Africa": AFR_C, "East Asia": EAS_C, "West Eurasia": EUR_C, "Oceania": OCE_C, "America": AMR_C,
           "South Asia": SAS_C}.get(name, CAS_C)
    swatch(x0, x1, yc, col)
    text(lx, yc, name, size=27)

for (x0, x1, lx), name, col in zip(((1508.6, 1528, 1543), (1617, 1637, 1651), (1726, 1746, 1758), (1834.6, 1854, 1866.6), (1943, 1963, 1976)),
                                   ("AFR", "AMR", "EAS", "EUR", "SAS"), (AFR_C, AMR_C, EAS_C, EUR_C, SAS_C)):
    swatch(x0, x1, 55, col)
    text(lx, 55, name, size=26)
for yc in (1063, 1475):
    for (x0, x1, lx), name, col in zip(((1530, 1550.6, 1566), (1640, 1659, 1674), (1748, 1768, 1780), (1857, 1877, 1889), (1966, 1985, 1998)),
                                       ("AFR", "AMR", "EAS", "EUR", "SAS"), (AFR_C, AMR_C, EAS_C, EUR_C, SAS_C)):
        swatch(x0, x1, yc, col)
        text(lx, yc, name, size=26)

text(661, 890, "142 population groups", size=27, anchor="center")
text(4, 988, "GNN proportion", size=27)
text(1067, 978, "GNN proportion", size=27)
text(20, 1228, "GNN fraction", size=26, anchor="center", angle=-90)
text(20, 1682, "GNN fraction", size=26, anchor="center", angle=-90)
text(122, 1392, "Sample haplotypes", size=27)
text(106, 1881, "Position on chromosome 20", size=26)
text(676, 1395, "HG01933 haplotype", size=23)
text(1668, 1394, "HG01933 haplotype", size=23)
circle(906, 1396, 15.5, "1", 22)
circle(1901, 1394, 15.5, "2", 22)
poly([(644, 1374), (644, 1397), (666, 1397)])
poly([(638, 1384), (644, 1374), (650, 1384)])
poly([(1923, 1396), (1945, 1396), (1945, 1375)])
poly([(1939, 1385), (1945, 1375), (1951, 1385)])
for b in c_highlight:
    shapes.append(dict(type="rect", xref="x7", yref="y7", x0=b - 0.5, x1=b + 0.5, y0=0, y1=1,
                       line=dict(color="#000", width=2)))

GRAY = "#666666"
for x in (125, 956, 1986):
    poly([(x, 1639), (x, 1666)], GRAY, 2)
    poly([(x, 1697), (x, 1725)], GRAY, 2)
text(116, 1681, "Telomeric region", size=26, color=GRAY)
text(954, 1681, "Centromeric region", size=26, anchor="center", color=GRAY)
text(1991, 1681, "Telomeric region", size=26, anchor="right", color=GRAY)
circle(2043, 1578, 20, "1", 26)
circle(2043, 1786, 20, "2", 26)
text(2080, 1683, "HG01933", size=26, anchor="center", angle=90)
text(2045, 1683, "haplotype", size=26, anchor="center", angle=90)

# ---------- axes ----------
hide = dict(showticklabels=False, showgrid=False, zeroline=False, ticks="", showline=False)
frame = dict(showline=True, mirror=True, linecolor="#000", linewidth=4, showgrid=False, zeroline=False)
yframe = dict(frame, ticks="outside", ticklen=16, tickwidth=3, tickcolor="#000",
              tickfont=dict(family=FONT, size=25, color="#000"), range=[0, 1], fixedrange=True)
fig.update_layout(
    width=W, height=H, margin=dict(l=0, r=0, t=0, b=0, autoexpand=False), paper_bgcolor="#fff", plot_bgcolor="#fff",
    showlegend=False, barmode="stack", bargap=0, font=dict(family=FONT, color="#000"),
    annotations=notes, shapes=shapes,
    xaxis=dict(hide, domain=xdom(238, 985), range=[-0.5, n_a - 0.5]),
    yaxis=dict(hide, domain=ydom(89, 868.6), range=[n_a - 0.5, -0.5]),
    xaxis2=dict(hide, domain=xdom(188.8, 235.3), range=[-0.5, 0.5], anchor="y2"),
    yaxis2=dict(hide, domain=ydom(89, 868.6), range=[n_a - 0.5, -0.5], anchor="x2"),
    xaxis3=dict(hide, domain=xdom(6, 186), range=[10, 292], anchor="y3"),
    yaxis3=dict(hide, domain=ydom(89, 868.6), range=[n_a - 0.5, -0.5], anchor="x3"),
    xaxis4=dict(hide, domain=xdom(1294.6, 2042.5), range=[-0.5, 25.5], anchor="y4", showticklabels=True,
                ticks="outside", ticklen=9, tickmode="array", tickvals=list(range(26)), ticktext=b_pops,
                tickangle=-45, tickfont=dict(family=FONT, size=23, color="#000")),
    yaxis4=dict(hide, domain=ydom(89, 868.6), range=[25.5, -0.5], anchor="x4", side="right", showticklabels=True,
                ticks="outside", ticklen=9, tickmode="array", tickvals=list(range(26)), ticktext=b_pops,
                tickfont=dict(family=FONT, size=23, color="#000")),
    xaxis5=dict(hide, domain=xdom(1246, 1292), range=[-0.5, 0.5], anchor="y5"),
    yaxis5=dict(hide, domain=ydom(89, 868.6), range=[25.5, -0.5], anchor="x5"),
    xaxis6=dict(hide, domain=xdom(1062, 1244), range=[18, 285], anchor="y6"),
    yaxis6=dict(hide, domain=ydom(89, 868.6), range=[25.5, -0.5], anchor="x6"),
    xaxis7=dict(frame, domain=xdom(109.5, 2054), range=[-0.5, 168.5], anchor="y7", showticklabels=False, ticks=""),
    yaxis7=dict(yframe, domain=ydom(1090, 1367), anchor="x7", tickmode="array", tickvals=[0, 0.25, 0.5, 0.75, 1],
                ticktext=["0", "", "0.5", "", "1.0"]),
    xaxis8=dict(frame, domain=xdom(109.5, 2006.5), range=[0, 64.41], anchor="y8", showticklabels=False, ticks=""),
    yaxis8=dict(yframe, domain=ydom(1502, 1654), anchor="x8", tickmode="array", tickvals=[0, 0.5, 1], ticktext=["0", "0.5", "1.0"]),
    xaxis9=dict(frame, domain=xdom(109.5, 2006.5), range=[0, 64.41], anchor="y9", showticklabels=False, ticks=""),
    yaxis9=dict(yframe, domain=ydom(1710, 1863), anchor="x9", tickmode="array", tickvals=[0, 0.5, 1], ticktext=["0", "0.5", "1.0"]),
)
fig.write_html("out.html", config={"displayModeBar": False},
               post_script="document.body.style.margin='0';document.body.style.background='#fff';")
